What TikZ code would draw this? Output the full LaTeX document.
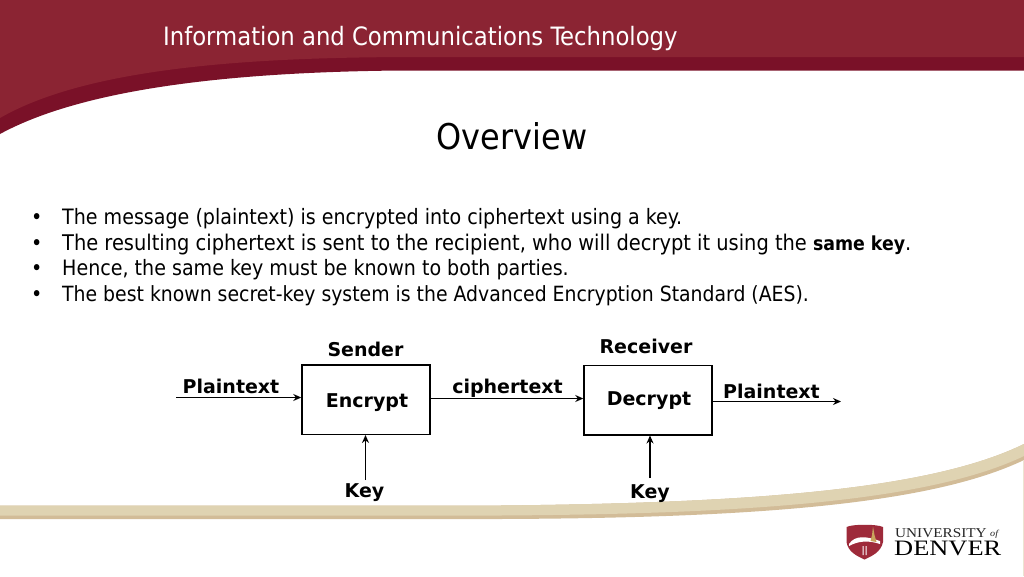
\documentclass[tikz,border=0pt]{standalone}
\usepackage{fontspec}
\setmainfont{DejaVu Sans Condensed}[BoldFont={DejaVu Sans Condensed Bold}]
\newfontfamily\lblfont{DejaVu Sans}
\newfontfamily\logoA{Liberation Serif}[FakeStretch=1.13]
\newfontfamily\logoB{Liberation Serif}[FakeStretch=1.2]
\definecolor{maroon}{HTML}{8B2433}
\definecolor{maroondark}{HTML}{7A1128}
\definecolor{shieldc}{HTML}{9E2A3A}
\definecolor{tan1}{HTML}{DFD3B2}
\definecolor{tan2}{HTML}{D2BC98}
\definecolor{goldc}{HTML}{C9A45C}
\usetikzlibrary{arrows.meta}
\tikzset{
  x=1pt,y=-1pt,
  lbl/.style={font=\lblfont\bfseries\fontsize{19}{21}\selectfont,text=black,inner sep=0pt},
  procbox/.style={draw=black,line width=1.5pt,minimum width=128pt,minimum height=69.5pt,inner sep=0pt},
  conn/.style={draw=black,line width=1.5pt,-{Stealth[length=8pt,width=7pt]}},
  bodytext/.style={font=\fontsize{21.2}{24}\selectfont,text=black,anchor=base west,inner sep=0pt},
}
\begin{document}
\begin{tikzpicture}
\useasboundingbox (0,0) rectangle (1024,576);
\fill[white] (0,0) rectangle (1024,576);
% header
\fill[maroondark] (0,0) -- (1024,0) -- (1024,70.5) -- (400,70.5)
  .. controls (250,72) and (90,85) .. (0,134) -- cycle;
\fill[maroon] (0,0) -- (1024,0) -- (1024,57) -- (420,57)
  .. controls (260,57) and (90,66) .. (0,118) -- cycle;
\node[font=\fontsize{25.3}{28}\selectfont,text=white,anchor=base west,inner sep=0pt] (hdr) at (163,45) {Information and Communications Technology};
\node[font=\fontsize{35.5}{40}\selectfont,text=black,anchor=base,inner sep=0pt] (ttl) at (512,149) {Overview};
% bullets
\foreach \yy/\nm in {224/a,250/b,275/c,301/d}{
  \node[bodytext] (bul\nm) at (31,\yy) {•};
}
\node[bodytext] (l1) at (62,224) {The message (plaintext) is encrypted into ciphertext using a key.};
\node[bodytext,font=\fontsize{21.6}{24}\selectfont] (l2) at (62,250) {The resulting ciphertext is sent to the recipient, who will decrypt it using the {\fontsize{19.3}{24}\selectfont\textbf{same key}}.};
\node[bodytext] (l3) at (62,275) {Hence, the same key must be known to both parties.};
\node[bodytext,font=\fontsize{20.95}{24}\selectfont] (l4) at (62,301) {The best known secret-key system is the Advanced Encryption Standard (AES).};
% tan band
\fill[tan2] (0,505.5) -- (500,505.5) .. controls (750,503) and (930,490) .. (1024,444)
  -- (1024,460) .. controls (930,505) and (750,518) .. (500,519) -- (0,519) -- cycle;
\fill[tan1] (0,505.5) -- (500,505.5) .. controls (750,503) and (930,490) .. (1024,444)
  -- (1024,456) .. controls (930,501) and (750,514) .. (500,515.5) -- (0,515.5) -- cycle;
\fill[tan1!60] (1022.5,460) rectangle (1024,576);
% diagram
\node[procbox] (enc) at (366,399.5) {};
\node[procbox] (dec) at (648,400) {};
\node[lbl,anchor=base] (encl) at (367,407) {Encrypt};
\node[lbl,anchor=base] (decl) at (649,405) {Decrypt};
\node[lbl,anchor=base] (snd) at (365.5,356.5) {Sender};
\node[lbl,anchor=base] (rcv) at (646,353) {Receiver};
\node[lbl,anchor=base] (pl1) at (231,393) {Plaintext};
\node[lbl,anchor=base] (cip) at (507.5,393) {ciphertext};
\node[lbl,anchor=base] (pl2) at (771.5,398) {Plaintext};
\node[lbl,anchor=base] (k1) at (364.5,497) {Key};
\node[lbl,anchor=base] (k2) at (650,498) {Key};
\coordinate (in1) at (176,397.5);
\coordinate (out1) at (841,401.5);
\coordinate (kf1) at (365.5,480);
\coordinate (kf2) at (650,478);
\draw[conn] (in1) -- (enc.west |- in1);
\draw[conn] (enc.east |- 0,398.5) -- (dec.west |- 0,398.5);
\draw[conn] (dec.east |- out1) -- (out1);
\draw[conn] (kf1) -- (enc.south -| kf1);
\draw[conn] (kf2) -- (dec.south -| kf2);
% logo
\fill[shieldc] (846.5,527) .. controls (852,524) and (877,524) .. (883,527) -- (883,542)
  .. controls (881,552) and (872,556) .. (864.5,559.5)
  .. controls (857,556) and (848,552) .. (846.5,542) -- cycle;
\fill[white] (849,544) .. controls (855,535) and (866,536) .. (880,541) -- (880,544) .. controls (868,540) and (858,541) .. (849,546) -- cycle;
\fill[goldc] (870.5,541) -- (872,535) -- (873,526.5) -- (874.5,535) -- (876.5,542) -- cycle;
\fill[white] (862.5,546) rectangle (863.5,555) (865.5,546) rectangle (866.5,555);
\node[font=\logoA\fontsize{13.5}{15}\selectfont,anchor=base west,inner sep=0pt,text=black!85] (u1) at (895,537.5) {UNIVERSITY};
\node[font=\logoA\itshape\fontsize{9}{10}\selectfont,anchor=base west,inner sep=0pt,text=black!85] (u2) at (990,536) {of};
\node[font=\logoB\fontsize{22}{23}\selectfont,anchor=base west,inner sep=0pt,text=black] (u3) at (894,555) {DENVER};
\end{tikzpicture}
\end{document}
